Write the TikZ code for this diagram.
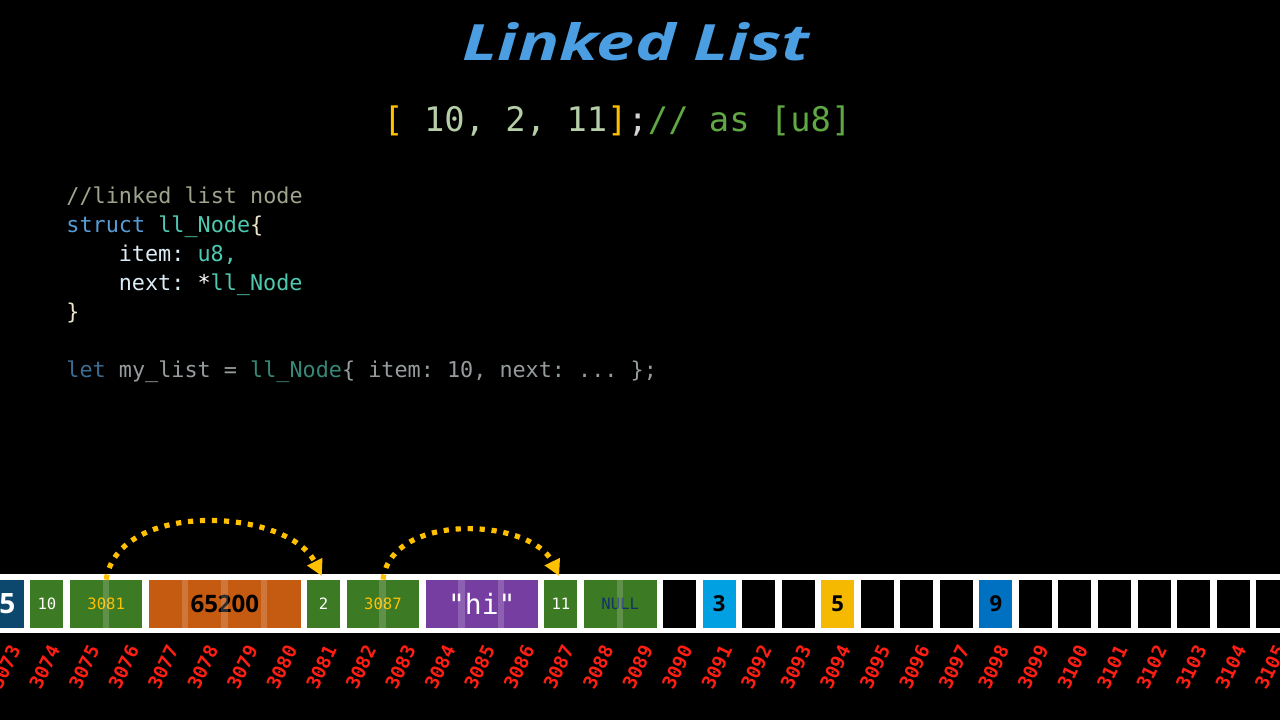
\documentclass[tikz,border=0pt]{standalone}
\usepackage{fontspec}
\usepackage{graphicx}
\setmainfont{Open Sans}
\setmonofont{DejaVu Sans Mono}
\newfontfamily\titlefont{Open Sans}
\usetikzlibrary{arrows.meta}

\definecolor{titleblue}{RGB}{74,158,225}
\definecolor{ptrgold}{RGB}{255,192,0}
\definecolor{numgreen}{RGB}{181,206,168}
\definecolor{semigrey}{RGB}{212,212,212}
\definecolor{cmtgreen}{RGB}{96,168,68}
\definecolor{cmtgrey}{RGB}{158,165,140}
\definecolor{kwblue}{RGB}{86,156,214}
\definecolor{typeteal}{RGB}{78,201,176}
\definecolor{propwhite}{RGB}{220,236,245}
\definecolor{bracecream}{RGB}{235,228,205}
\definecolor{dimblue}{RGB}{60,108,145}
\definecolor{dimteal}{RGB}{55,135,120}
\definecolor{dimgrey}{RGB}{150,156,158}
\definecolor{navycell}{RGB}{12,72,110}
\definecolor{greencell}{RGB}{61,122,36}
\definecolor{orangecell}{RGB}{197,90,17}
\definecolor{purplecell}{RGB}{118,62,160}
\definecolor{cyancell}{RGB}{0,160,226}
\definecolor{goldcell}{RGB}{244,185,0}
\definecolor{bluecell}{RGB}{0,112,192}
\definecolor{nulltext}{RGB}{20,50,100}
\definecolor{addrred}{RGB}{255,30,20}

\begin{document}
\begin{tikzpicture}[x=0.5pt, y=-0.5pt,
    cellbox/.style={anchor=west, inner sep=0pt, minimum height=24pt},
    addr/.style={text=addrred, font=\ttfamily\bfseries\fontsize{9.4pt}{10pt}\selectfont, rotate=64, inner sep=0pt},
    smallmono/.style={text=white, font=\ttfamily\fontsize{7.8pt}{8pt}\selectfont},
    ptrmono/.style={smallmono, text=ptrgold},
    nullmono/.style={smallmono, text=nulltext},
    bigsans/.style={text=black, font=\bfseries\fontsize{12pt}{13pt}\selectfont},
    himono/.style={text=white, font=\ttfamily\fontsize{14pt}{15pt}\selectfont},
    numsans/.style={text=black, font=\bfseries\fontsize{11pt}{12pt}\selectfont},
    edgenum/.style={text=white, font=\bfseries\fontsize{14pt}{15pt}\selectfont},
    ptr/.style={draw=ptrgold, line width=2.6pt, dash pattern=on 2.6pt off 3.4pt,
        -{Triangle[length=8pt,width=8pt]}, shorten >=2pt},
    code/.style={anchor=base west, inner sep=0pt, font=\ttfamily\fontsize{10.9pt}{13pt}\selectfont}
]
    \useasboundingbox (0,0) rectangle (1280,720);
    \fill[black] (0,0) rectangle (1280,720);
    \clip (0,0) rectangle (1280,720);

    % heading
    \node[text=titleblue, inner sep=0pt] (title) at (636,42)
        {\resizebox{173.5pt}{19pt}{\titlefont\bfseries\itshape Linked List}};
    \node[anchor=base west, inner sep=0pt, font=\ttfamily\fontsize{16.9pt}{18pt}\selectfont] (arr) at (383,131)
        {\textcolor{ptrgold}{[} \textcolor{numgreen}{10, 2, 11}\textcolor{ptrgold}{]}\textcolor{semigrey}{;}\textcolor{cmtgreen}{// as [u8]}};

    % struct code
    \node[code] (cmt) at (66,203) {\textcolor{cmtgrey}{//linked list node}};
    \node[code] (head) at (66,232) {\textcolor{kwblue}{struct} \textcolor{typeteal}{ll\_Node}\textcolor{bracecream}{\{}};
    \node[code] (item) at (118.4,261) {\textcolor{propwhite}{item:} \textcolor{typeteal}{u8,}};
    \node[code] (next) at (118.4,290) {\textcolor{propwhite}{next:} \textcolor{white}{*}\textcolor{typeteal}{ll\_Node}};
    \node[code] (close) at (66,319) {\textcolor{bracecream}{\}}};
    \node[code] (let) at (66,377) {\textcolor{dimblue}{let} \textcolor{dimgrey}{my\_list =} \textcolor{dimteal}{ll\_Node}\textcolor{dimgrey}{\{ item: 10, next: ... \};}};

    % memory strip
    \fill[white] (-20,574) rectangle (1300,633);
    \foreach \n in {3073,...,3105}{
        \pgfmathsetmacro\xl{-9.54+(\n-3073)*39.54}
        \node[cellbox, fill=black, minimum width=16.5pt] (c\n) at (\xl,604) {};
        \node[addr] (a\n) at (\xl+14.5,667) {\n};
    }
    \foreach \n/\k/\col/\sty/\txt in {3073/1/navycell/edgenum/5, 3074/1/greencell/smallmono/10,
        3075/2/greencell/ptrmono/3081, 3077/4/orangecell/bigsans/65200, 3081/1/greencell/smallmono/2,
        3082/2/greencell/ptrmono/3087, 3084/3/purplecell/himono/"hi", 3087/1/greencell/smallmono/11,
        3088/2/greencell/nullmono/NULL, 3091/1/cyancell/numsans/3, 3094/1/goldcell/numsans/5,
        3098/1/bluecell/numsans/9}{
        \pgfmathsetmacro\xl{-9.54+(\n-3073)*39.54}
        \pgfmathsetmacro\w{\k*19.77-3.27}
        \node[cellbox, fill=\col, \sty, minimum width=\w pt] (o\n) at (\xl,604) {\txt};
    }
    % cell seams inside wide values
    \foreach \n in {3075,3077,3078,3079,3082,3084,3085,3088}{
        \pgfmathsetmacro\xg{-9.54+(\n-3073)*39.54+33}
        \fill[white, opacity=0.18] (\xg,580) rectangle +(6.54,48);
    }

    % next pointers
    \draw[ptr] (o3075.north) .. controls +(12,-80) and +(-36,-72) .. (o3081.north);
    \draw[ptr] (o3082.north) .. controls +(8,-68) and +(-30,-62) .. (o3087.north);
\end{tikzpicture}
\end{document}
